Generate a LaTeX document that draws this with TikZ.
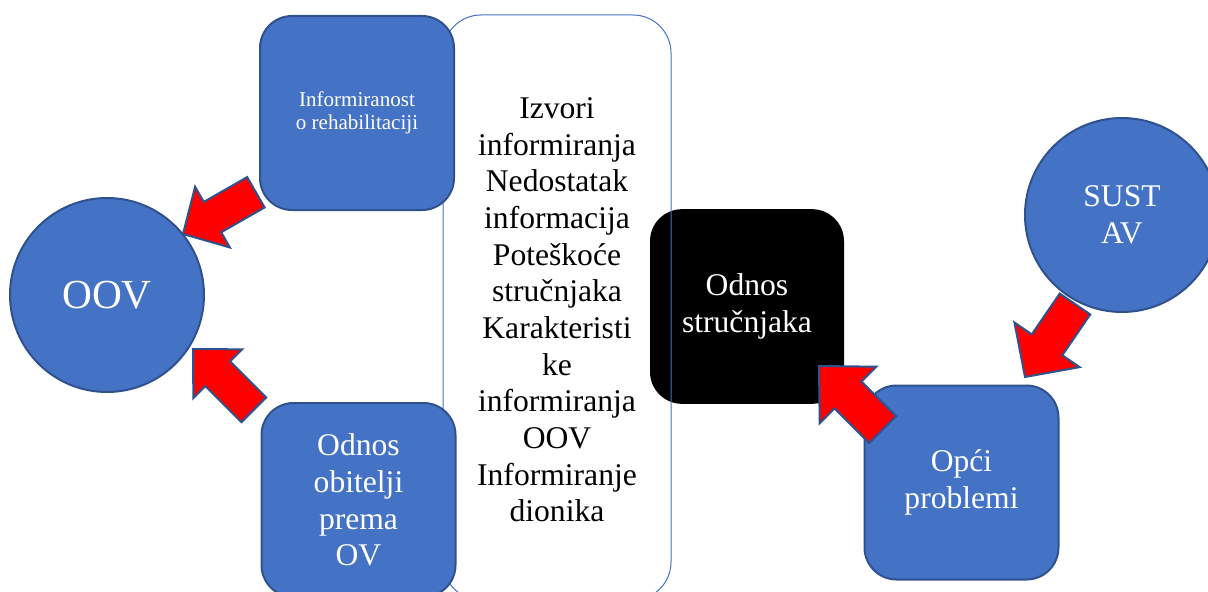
\documentclass[tikz,border=0pt]{standalone}
\usepackage{fontspec}
\setmainfont{Liberation Serif}
\definecolor{boxblue}{HTML}{4472C4}
\definecolor{edgeblue}{HTML}{2F528F}
\begin{document}
\begin{tikzpicture}[x=0.75pt,y=0.75pt,
  bigtext/.style={font=\fontsize{23.7}{27.5}\selectfont, align=center},
  bluebox/.style={rectangle, draw=edgeblue, line width=1.5pt, fill=boxblue,
    rounded corners=24pt, minimum width=145.5pt, minimum height=145.5pt,
    inner sep=0pt, text=white},
  bluecircle/.style={circle, draw=edgeblue, line width=1.5pt, fill=boxblue,
    minimum size=145.5pt, inner sep=0pt, text=white},
  blackbox/.style={rectangle, fill=black, rounded corners=24pt,
    minimum width=145.5pt, minimum height=146pt, inner sep=0pt, text=white},
  frame/.style={rectangle, draw=boxblue, line width=0.75pt, rounded corners=28.5pt,
    minimum width=171pt, minimum height=438.75pt, inner sep=0pt},
  redarrow/.style={draw=edgeblue, line width=1.5pt, fill=red, line join=miter},
  pics/blockarrow/.style n args={4}{code={%
    \path[redarrow] (0,0) -- (-#2,#3/2) -- (-#2,#4/2) -- (-#1,#4/2)
      -- (-#1,-#4/2) -- (-#2,-#4/2) -- (-#2,-#3/2) -- cycle;}}
]
\useasboundingbox (0,0) rectangle (1208,-592);
\clip (0,0) rectangle (1208,-592);

% central relation box
\node[blackbox, bigtext] (strucnjaci) at (747,-306.5) {Odnos\\stručnjaka};

% tall frame with the list of themes
\node[frame] (izvori) at (557,-307.5) {};
\node[bigtext] (izvoritext) at (557,-310) {Izvori\\informiranja\\Nedostatak\\informacija\\Poteškoće\\stručnjaka\\Karakteristi\\ke\\informiranja\\OOV\\Informiranje\\dionika};

% blue boxes and circles
\node[bluebox, font=\fontsize{15.8}{17.6}\selectfont, align=center] (info) at (357,-113) {Informiranost\\o rehabilitaciji};
\node[bluebox, bigtext] (obitelj) at (358.5,-500) {Odnos\\obitelji\\prema\\OV};
\node[bluecircle, font=\fontsize{31}{36}\selectfont] (oov) at (107,-295) {OOV};
\node[bluecircle, bigtext] (sustav) at (1122,-215) {SUST\\AV};
\node[bluebox, bigtext] (opci) at (961.5,-482.5) {Opći\\problemi};

% block arrows (tip position, direction)
\coordinate (tip1) at (183,-234);
\coordinate (tip2) at (193,-349);
\coordinate (tip3) at (819,-366);
\coordinate (tip4) at (1025,-377);
\pic[rotate=209.8] at (tip1) {blockarrow={84}{34}{70}{35}};
\pic[rotate=135] at (tip2) {blockarrow={86}{35}{69}{35}};
\pic[rotate=135] at (tip3) {blockarrow={90}{41}{80}{38}};
\pic[rotate=235.6] at (tip4) {blockarrow={88.5}{39}{79}{37}};
\end{tikzpicture}
\end{document}
